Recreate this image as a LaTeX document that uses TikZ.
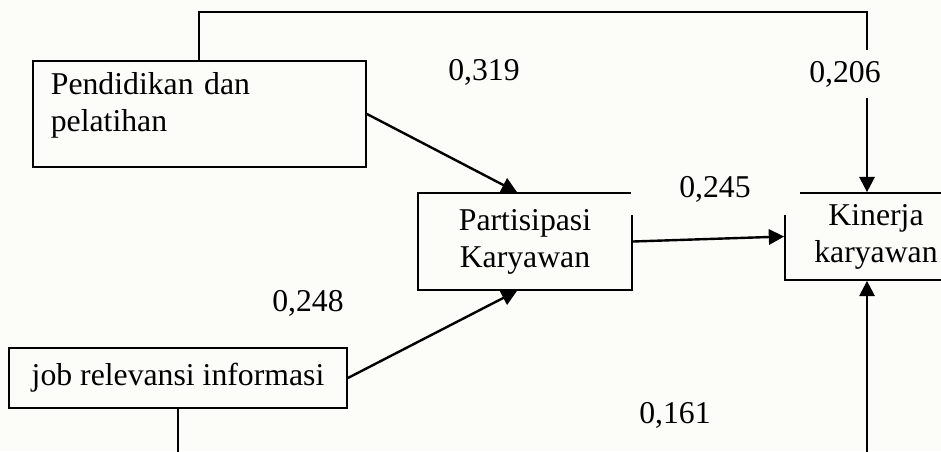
\documentclass[tikz,border=0pt]{standalone}
\usepackage{fontspec}
\setmainfont{Liberation Serif}
\usepackage{xcolor}
\usetikzlibrary{arrows.meta}
\definecolor{paper}{RGB}{252,252,249}

\begin{document}
\begin{tikzpicture}[
	x=0.75pt, y=-0.75pt,
	box/.style={
		draw,
		rectangle,
		line width=1.3pt,
		align=center,
		font=\fontsize{23.8}{27.75}\selectfont
	},
	coef/.style={
		anchor=base,
		font=\fontsize{23.8}{27.75}\selectfont
	},
	conn/.style={
		line width=1.8pt,
		-{Triangle[length=11.5pt,width=11.5pt]}
	}
	]
	
	\useasboundingbox[fill=paper] (0,0) rectangle (941,451);
	\clip (0,0) rectangle (941,451);
	
	% Left box
	\node[box, anchor=north west, align=left, text width=222.75pt, inner xsep=13.5pt, inner ysep=6pt, text height=19pt, text depth=48.5pt] (pend) at (32,60) {Pendidikan dan\\pelatihan};
	
	% Middle box
	\node[box, minimum width=160.5pt, minimum height=72.75pt] (part) at (525,241.5) {Partisipasi\\Karyawan};
	
	% Right box
	\node[box, minimum width=136.5pt, minimum height=65.25pt] (kin) at (876,236.5) {Kinerja\\karyawan};
	
	% Bottom box
	\node[box, minimum width=253.5pt, minimum height=45pt] (job) at (178,378) {job relevansi informasi};
	
	% Corners of the two long lines
	\coordinate (tl) at (199,12);
	\coordinate (tr) at (867,12);
	\coordinate (bl) at (178,480);
	\coordinate (br) at (867,480);
	
	% Connect boxes
	\draw[conn] (pend.north -| tl) -- (tl) -- (tr) -- (tr |- kin.north);
	\draw[conn] (pend.east) -- ([xshift=-6pt]part.north);
	\draw[conn] (part.east) -- (kin.west);
	\draw[conn] (job.east) -- ([xshift=-6pt]part.south);
	\draw[conn] (job.south) -- (bl) -- (br) -- (br |- kin.south);
	
	% Path coefficients
	\node[coef] (c319) at (484,80) {0,319};
	\node[coef, fill=paper, inner ysep=8pt] (c206) at (845,82) {0,206};
	\node[coef, fill=paper, minimum width=126.75pt, inner ysep=10pt] (c245) at (715,197) {0,245};
	\node[coef] (c248) at (308,311) {0,248};
	\node[coef] (c161) at (675,423) {0,161};
	
\end{tikzpicture}
\end{document}
